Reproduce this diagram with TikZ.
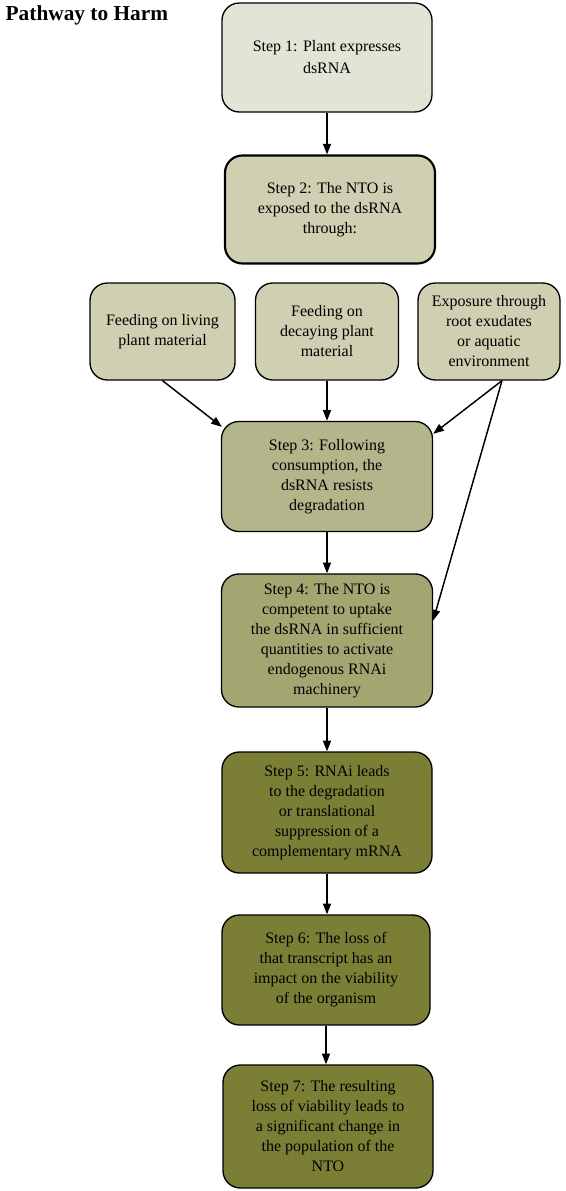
\documentclass[tikz,border=0pt]{standalone}
\usepackage{fontspec}
\setmainfont{Liberation Serif}
\usetikzlibrary{arrows.meta,calc}
\definecolor{cA}{HTML}{E4E4D6}
\definecolor{cB}{HTML}{CFCFB1}
\definecolor{cC}{HTML}{B3B58A}
\definecolor{cD}{HTML}{A4A672}
\definecolor{cE}{HTML}{7B7F36}
\tikzset{
  box/.style={draw=black, line width=1pt, rounded corners=13pt, align=center, inner sep=2pt,
    font=\fontsize{12pt}{15pt}\selectfont},
  arr/.style={-{Triangle[length=8pt,width=6pt]}, line width=1.1pt},
}
\begin{document}
\begin{tikzpicture}[x=0.75pt,y=-0.75pt]
\useasboundingbox (0,0) rectangle (566,1191);
\node[anchor=base west, font=\fontsize{16pt}{18pt}\selectfont\bfseries] (title) at (1,21) {Pathway to Harm};

\node[box, fill=cA, minimum width=157.5pt, minimum height=81.75pt, font=\fontsize{12pt}{16.5pt}\selectfont] (b1) at (327,57.5) {Step 1: Plant expresses\\dsRNA};
\node[box, fill=cB, line width=1.6pt, minimum width=157.5pt, minimum height=81pt] (b2) at (330,209.5) {Step 2: The NTO is\\exposed to the dsRNA\\through:};

\node[box, fill=cB, minimum width=108.75pt, minimum height=72.75pt] (A) at (162.5,331.5) {Feeding on living\\plant material};
\node[box, fill=cB, minimum width=107.25pt, minimum height=72.75pt] (B) at (327,331.5) {Feeding on\\decaying plant\\material};
\node[box, fill=cB, minimum width=106.5pt, minimum height=72.75pt] (C) at (489,331.5) {Exposure through\\root exudates\\or aquatic\\environment};

\node[box, fill=cC, minimum width=158.25pt, minimum height=82.5pt] (b3) at (327,476.5) {Step 3: Following\\consumption, the\\dsRNA resists\\degradation};
\node[box, fill=cD, minimum width=158.25pt, minimum height=99.75pt] (b4) at (327,640.5) {Step 4: The NTO is\\competent to uptake\\the dsRNA in sufficient\\quantities to activate\\endogenous RNAi\\machinery};
\node[box, fill=cE, minimum width=157.5pt, minimum height=90.75pt] (b5) at (327,812.5) {Step 5: RNAi leads\\to the degradation\\or translational\\suppression of a\\complementary mRNA};
\node[box, fill=cE, minimum width=156pt, minimum height=82.5pt] (b6) at (326,970) {Step 6: The loss of\\that transcript has an\\impact on the viability\\of the organism};
\node[box, fill=cE, minimum width=157.5pt, minimum height=92.25pt] (b7) at (328,1126.5) {Step 7: The resulting\\loss of viability leads to\\a significant change in\\the population of the\\NTO};

\coordinate (cs) at ($(C.south)+(13,0)$);
\draw[arr] (b1.south) -- (b1.south |- b2.north);
\draw[arr] (B.south) -- (B.south |- b3.north);
\draw[arr] (A.south) -- ($(b3.north west)+(1,6)$);
\draw[arr] (cs) -- ($(b3.north east)+(0,13)$);
\draw[arr] (cs) -- ($(b4.east)+(0,-20)$);
\draw[arr] (b3.south) -- (b3.south |- b4.north);
\draw[arr] (b4.south) -- (b4.south |- b5.north);
\draw[arr] (b5.south) -- (b5.south |- b6.north);
\draw[arr] (b6.south) -- (b6.south |- b7.north);
\end{tikzpicture}
\end{document}
